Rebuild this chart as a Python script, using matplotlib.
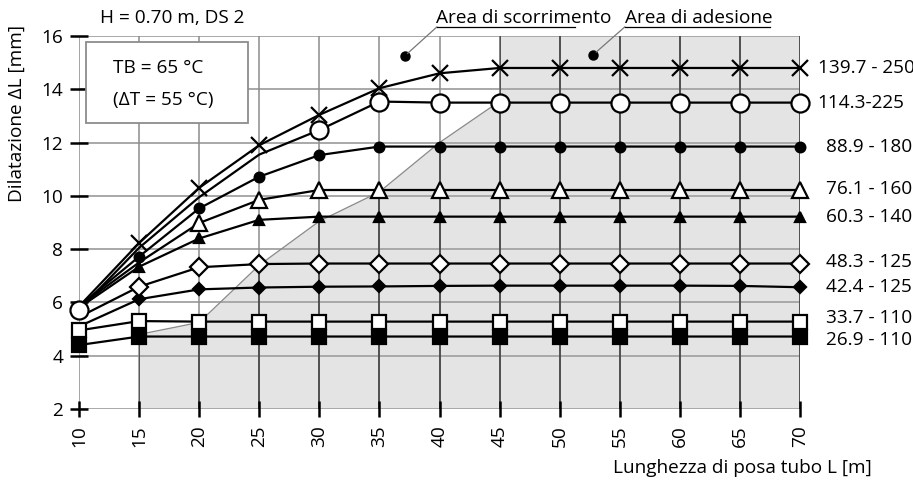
import matplotlib
matplotlib.use("Agg")
import matplotlib.pyplot as plt
from matplotlib.patches import Polygon, Rectangle

plt.rcParams['font.family'] = ['Open Sans', 'DejaVu Sans']
FS = 13.7

# lunghezza di posa [m]
L = [10, 15, 20, 25, 30, 35, 40, 45, 50, 55, 60, 65, 70]

# dilatazione [mm] per diametro - spessore
d139 = [5.85, 8.23, 10.3, 11.9, 13.04, 14.04, 14.6, 14.8, 14.8, 14.8, 14.8, 14.8, 14.8]
d114 = [5.72, 8.05, 9.95, 11.55, 12.47, 13.54, 13.5, 13.5, 13.5, 13.5, 13.5, 13.5, 13.5]
d88 = [5.85, 7.72, 9.53, 10.72, 11.53, 11.85, 11.85, 11.85, 11.85, 11.85, 11.85, 11.85, 11.85]
d76 = [5.85, 7.5, 8.98, 9.85, 10.22, 10.22, 10.22, 10.22, 10.22, 10.22, 10.22, 10.22, 10.22]
d60 = [5.8, 7.34, 8.4, 9.1, 9.22, 9.22, 9.22, 9.22, 9.22, 9.22, 9.22, 9.22, 9.22]
d48 = [5.45, 6.59, 7.32, 7.44, 7.46, 7.46, 7.46, 7.46, 7.46, 7.46, 7.46, 7.46, 7.46]
d42 = [5.1, 6.12, 6.49, 6.56, 6.59, 6.6, 6.62, 6.63, 6.63, 6.63, 6.63, 6.62, 6.57]
d33 = [4.95, 5.3, 5.28, 5.28, 5.28, 5.28, 5.28, 5.28, 5.28, 5.28, 5.28, 5.28, 5.28]
d26 = [4.4, 4.72, 4.72, 4.72, 4.72, 4.72, 4.72, 4.72, 4.72, 4.72, 4.72, 4.72, 4.72]

labels = ['139.7 - 250', '114.3-225', '88.9 - 180', '76.1 - 160', '60.3 - 140',
          '48.3 - 125', '42.4 - 125', '33.7 - 110', '26.9 - 110']
# spostamento verticale delle etichette rispetto all'ultimo valore
label_dy = [0, 0, 0, 0.05, 0, 0.05, 0, 0.12, -0.14]

# confine area di scorrimento / area di adesione
bound_x = [15, 20, 25, 30, 35, 40, 45]
bound_y = [4.8, 5.25, 7.4, 9.05, 10.15, 12.0, 13.55]

# punti di richiamo delle due aree
dot_scorr = (37.1, 15.25)
dot_ades = (52.8, 15.3)

fig = plt.figure(figsize=(9.13, 4.82), dpi=100)
ax = fig.add_axes([79 / 913, 1 - 409 / 482, 721 / 913, 373 / 482])
ax.set_xlim(10, 70)
ax.set_ylim(2, 16)
for s in ax.spines.values():
    s.set_visible(False)

# area grigia
poly_x = [bound_x[0]] + bound_x + [bound_x[-1], 70, 70]
poly_y = [2] + bound_y + [16, 16, 2]
area = Polygon(list(zip(poly_x, poly_y)), closed=True, facecolor='#e4e4e4',
               edgecolor='none', zorder=0)
ax.add_patch(area)
ax.plot(bound_x, bound_y, color='#8a8a8a', lw=0.9, zorder=1)

# griglia
ax.set_xticks(range(10, 71, 5))
ax.set_yticks(range(2, 17, 2))
for y in range(2, 17, 2):
    ax.axhline(y, color='#a8a8a8', lw=1.4, zorder=0.5)
for x in range(10, 71, 5):
    ax.axvline(x, color='#8c8c8c', lw=1.1, zorder=0.5)
    v = ax.axvline(x, color='#3c3c3c', lw=1.1, zorder=0.6)
    v.set_clip_path(area)

ax.tick_params(axis='y', direction='inout', length=13, width=1.8, labelsize=FS, pad=5)
ax.tick_params(axis='x', direction='inout', length=11.5, width=1.8, labelsize=FS,
               pad=6, labelrotation=90)

# serie
series = [
    (d26, 's', 10, 'k', list(range(13))),
    (d42, 'D', 6.5, 'k', list(range(1, 13))),
    (d33, 's', 9.5, 'w', list(range(13))),
    (d60, '^', 7.5, 'k', list(range(1, 13))),
    (d88, 'o', 7, 'k', list(range(1, 13))),
    (d48, 'D', 9.5, 'w', list(range(1, 13))),
    (d76, '^', 12, 'w', list(range(2, 13))),
    (d139, 'x', 11, 'k', list(range(1, 13))),
    (d114, 'o', 13, 'w', [0] + list(range(4, 13))),
]
for i, (vals, m, ms, fc, every) in enumerate(series):
    ax.plot(L, vals, color='k', lw=1.6, marker=m, ms=ms, mfc=fc, mec='k',
            mew=1.6, markevery=every, clip_on=False, zorder=3 + i)

# etichette a destra
right_vals = [d139, d114, d88, d76, d60, d48, d42, d33, d26]
for lab, vals, dy in zip(labels, right_vals, label_dy):
    n = len(lab.split('-')[0].strip())
    ax.text(72.15 - 0.67 * (n - 4), vals[-1] + dy, lab, fontsize=FS, va='center',
            ha='left', clip_on=False)

# riquadro
ax.add_patch(Rectangle((0.0097, 0.767), 0.2247, 0.217, transform=ax.transAxes,
                       facecolor='white', edgecolor='#8c8c8c', lw=1.3, zorder=10))
ax.text(0.047, 0.914, 'TB = 65 °C', transform=ax.transAxes, fontsize=FS,
        va='center', ha='left', zorder=11)
ax.text(0.047, 0.828, '(ΔT = 55 °C)', transform=ax.transAxes, fontsize=FS,
        va='center', ha='left', zorder=11)

# richiami aree
ax.plot(*dot_scorr, 'o', color='k', ms=6.5, clip_on=False, zorder=12)
ax.plot(*dot_ades, 'o', color='k', ms=6.5, clip_on=False, zorder=12)
ax.plot([dot_scorr[0] + 0.25, 39.78], [dot_scorr[1] + 0.1, 16.34],
        color='#777777', lw=0.9, clip_on=False, zorder=12)
ax.plot([dot_ades[0] + 0.25, 55.42], [dot_ades[1] + 0.1, 16.34],
        color='#777777', lw=0.9, clip_on=False, zorder=12)
ax.plot([39.78, 51.27], [16.34, 16.34], color='k', lw=0.9, clip_on=False, zorder=12)
ax.plot([55.42, 67.5], [16.34, 16.34], color='k', lw=0.9, clip_on=False, zorder=12)
ax.text(39.7, 16.5, 'Area di scorrimento', fontsize=FS, va='baseline', ha='left')
ax.text(55.4, 16.5, 'Area di adesione', fontsize=FS, va='baseline', ha='left')

fig.text(100 / 913, 1 - 18 / 482, 'H = 0.70 m, DS 2', fontsize=FS, va='center', ha='left')
fig.text(17 / 913, 1 - 113 / 482, 'Dilatazione ΔL [mm]', fontsize=FS, rotation=90,
         va='center', ha='center')
fig.text(872 / 913, 1 - 468 / 482, 'Lunghezza di posa tubo L [m]', fontsize=FS,
         va='center', ha='right')

fig.savefig('out.png', dpi=100)
